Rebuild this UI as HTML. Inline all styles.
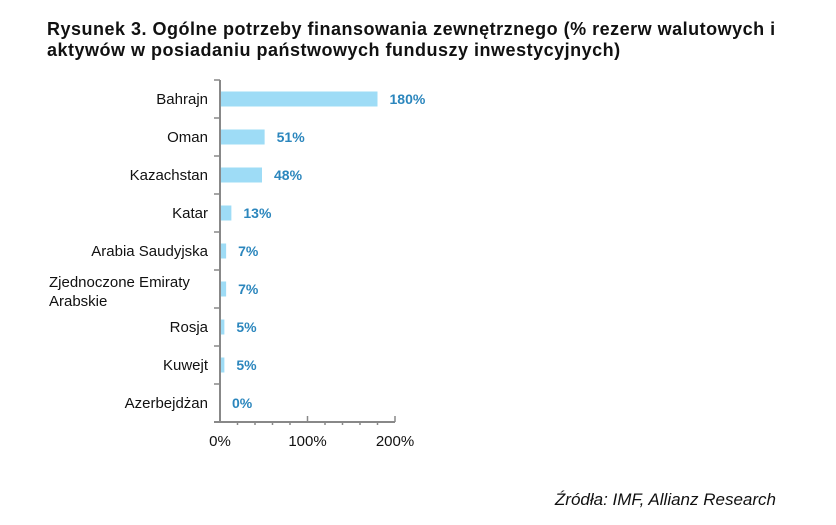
<!DOCTYPE html>
<html><head><meta charset="utf-8"><style>
body{margin:0;background:#fff;width:836px;height:525px;overflow:hidden;font-family:"Liberation Sans",sans-serif;}
.t{position:absolute;left:47px;top:19px;font-weight:bold;font-size:18px;letter-spacing:0.5px;line-height:21px;color:#111;white-space:nowrap;}
.s{position:absolute;right:60px;top:490px;font-style:italic;font-size:17px;color:#111;}
</style></head><body>
<div class="t">Rysunek 3. Ogólne potrzeby finansowania zewnętrznego (% rezerw walutowych i<br>aktywów w posiadaniu państwowych funduszy inwestycyjnych)</div>
<svg id="c" width="836" height="525" style="position:absolute;left:0;top:0"></svg>
<div class="s">Źródła: IMF, Allianz Research</div>
<script>
const categories=["Bahrajn","Oman","Kazachstan","Katar","Arabia Saudyjska","Zjednoczone Emiraty|Arabskie","Rosja","Kuwejt","Azerbejdżan"];
const values=[180,51,48,13,7,7,5,5,0];
const valueLabels=["180%","51%","48%","13%","7%","7%","5%","5%","0%"];
const xTicks=[0,100,200];
const xTickLabels=["0%","100%","200%"];
const NS="http://www.w3.org/2000/svg";
const svg=document.getElementById('c');
const x0=220,yTop=80,yBottom=422,scale=0.875,band=(yBottom-yTop)/categories.length;
const X=v=>x0+v*scale, Y=i=>yTop+band*i+band/2;
function mk(t,a){const e=document.createElementNS(NS,t);for(const k in a)e.setAttribute(k,a[k]);svg.appendChild(e);return e;}
categories.forEach((c,i)=>{
 const b=mk('rect',{x:x0,y:Y(i)-7.5,width:Math.max(values[i]*scale,0.5),height:15,fill:'#9edcf6'});
 
 
 const lab=mk('text',{x:X(values[i])+12,y:Y(i)+5,'font-size':14,'font-weight':'bold',fill:'#2b86bd'});
 lab.textContent=valueLabels[i];
 
 
 const parts=c.split('|');
 if(parts.length>1){
  parts.forEach((p,k)=>{const t=mk('text',{x:49,y:Y(i)-2+k*19,'font-size':15,fill:'#111'});t.textContent=p;
  
  });
 }else{
  const t=mk('text',{x:208,y:Y(i)+5,'font-size':15,fill:'#111','text-anchor':'end'});t.textContent=c;
  
  
 }
});
for(let i=0;i<=categories.length;i++){mk('line',{x1:214,x2:220,y1:yTop+band*i,y2:yTop+band*i,stroke:'#888','stroke-width':1.5});}
const ax=mk('line',{x1:x0,x2:x0,y1:yTop,y2:yBottom,stroke:'#888','stroke-width':2});


const bx=mk('line',{x1:214,x2:X(200),y1:yBottom,y2:yBottom,stroke:'#888','stroke-width':2});


for(let v=0;v<=200;v+=20){const maj=v%100===0;mk('line',{x1:X(v),x2:X(v),y1:yBottom-(maj?6:0),y2:yBottom+(maj?0:3),stroke:'#888','stroke-width':1.5});}
xTicks.forEach((v,i)=>{const t=mk('text',{x:X(v),y:446,'font-size':15,fill:'#111','text-anchor':'middle'});t.textContent=xTickLabels[i];
 
 });
</script>
</body></html>
